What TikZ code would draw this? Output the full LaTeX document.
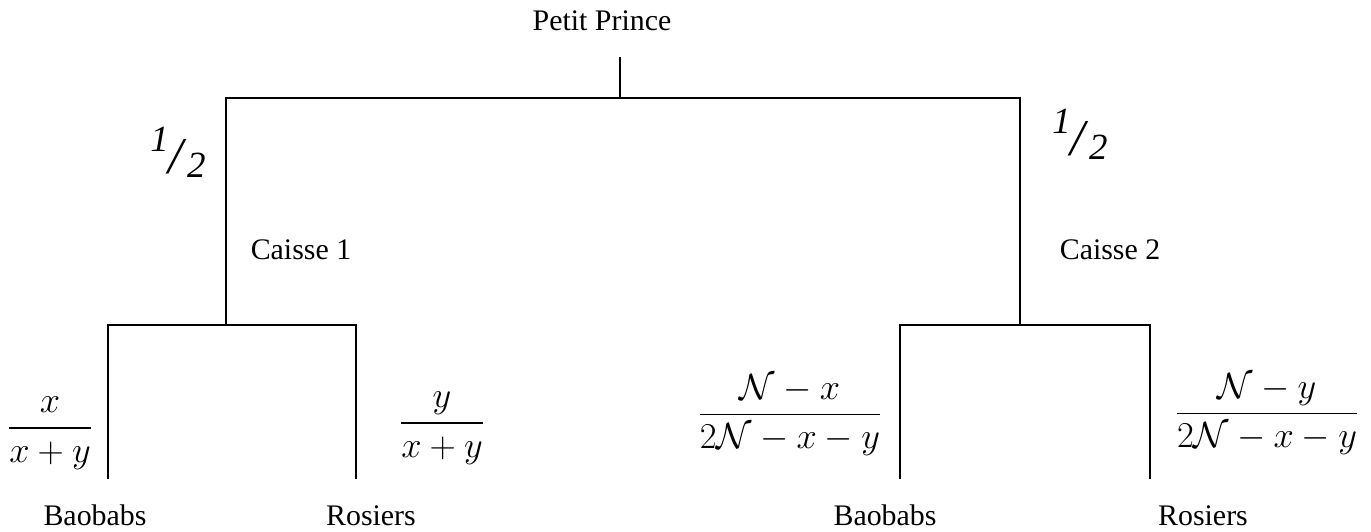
\documentclass[tikz,border=0pt]{standalone}
\usepackage{amsmath}
\usepackage{fontspec}
\setmainfont{Liberation Serif}
\usepackage{tikz}
\usetikzlibrary{positioning}

% slanted one half, as in the probability tree
\newcommand{\halfprob}{\raisebox{0.5em}{\textit{1}}\raisebox{-0.1em}{\scalebox{1.4}{\textit{/}}}\raisebox{-0.2em}{\textit{2}}}

\begin{document}
\begin{tikzpicture}[
  x=0.02cm, y=-0.02cm,
  lab/.style={font=\fontsize{17}{20}\selectfont, inner sep=0pt, anchor=base},
  prob/.style={font=\fontsize{20}{24}\selectfont, inner sep=0pt},
  half/.style={font=\fontsize{21}{25}\selectfont, inner sep=0pt},
  br/.style={line width=1pt, line cap=rect}]
  \useasboundingbox (0,0) rectangle (1371,531);
  % root
  \node[lab] (pp) at (602,30) {Petit Prince};
  \coordinate (stub) at (620,58);
  \coordinate (fork) at (620,98);
  \coordinate (c1) at (226,98);
  \coordinate (c2) at (1020,98);
  \draw[br] (stub) -- (fork);
  \draw[br] (c1) -- (c2);
  % first level
  \coordinate (k1) at (226,325);
  \coordinate (k2) at (1020,325);
  \draw[br] (c1) -- (k1);
  \draw[br] (c2) -- (k2);
  \node[half] (p1) at (178,152) {\halfprob};
  \node[half] (p2) at (1080,134) {\halfprob};
  \node[lab] (cs1) at (301,259) {Caisse 1};
  \node[lab] (cs2) at (1110,259) {Caisse 2};
  % second level
  \coordinate (b1) at (108,478);
  \coordinate (r1) at (356,478);
  \coordinate (b2) at (900,478);
  \coordinate (r2) at (1150,478);
  \draw[br] (b1) -- ++(0,-153) -| (r1);
  \draw[br] (b2) -- ++(0,-153) -| (r2);
  \node[prob] (fb1) at (50,433) {$\dfrac{x}{x+y}$};
  \node[prob] (fr1) at (442,428) {$\dfrac{y}{x+y}$};
  \node[prob] (fb2) at (790,415) {$\dfrac{\mathcal{N}-x}{2\mathcal{N}-x-y}$};
  \node[prob] (fr2) at (1267,414) {$\dfrac{\mathcal{N}-y}{2\mathcal{N}-x-y}$};
  % leaves
  \node[lab] (lb1) at (95,525) {Baobabs};
  \node[lab] (lr1) at (371,525) {Rosiers};
  \node[lab] (lb2) at (885,525) {Baobabs};
  \node[lab] (lr2) at (1203,525) {Rosiers};
\end{tikzpicture}
\end{document}
